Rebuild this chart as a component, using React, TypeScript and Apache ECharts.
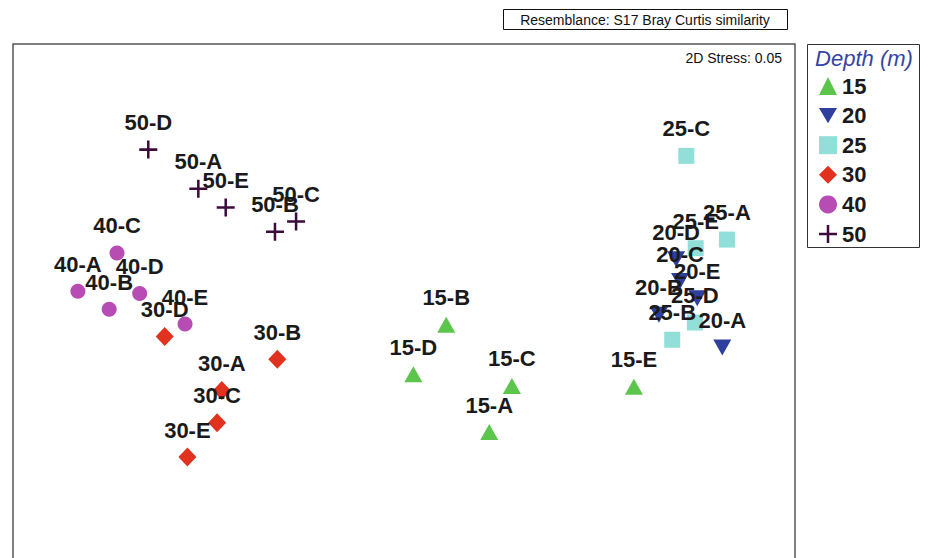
import React, { useEffect, useRef } from 'react';
import * as echarts from 'echarts';

// nMDS ordination coordinates (arbitrary units), sites A..E per depth
const sites = ['A', 'B', 'C', 'D', 'E'];
const depths = ['15', '20', '25', '30', '40', '50'];

const x15 = [60.9, 55.4, 63.8, 51.2, 79.4];
const y15 = [16.1, 29.8, 22.0, 23.5, 21.9];

const x20 = [90.7, 82.6, 85.3, 84.8, 87.5];
const y20 = [26.9, 31.1, 35.4, 38.2, 33.2];

const x25 = [91.3, 84.3, 86.1, 87.2, 87.3];
const y25 = [40.7, 27.9, 51.4, 30.1, 39.6];

const x30 = [26.7, 33.8, 26.1, 19.4, 22.3];
const y30 = [21.4, 25.4, 17.3, 28.3, 12.9];

const x40 = [8.3, 12.3, 13.3, 16.2, 22.0];
const y40 = [34.1, 31.8, 39.0, 33.8, 29.9];

const x50 = [23.7, 33.5, 36.2, 17.3, 27.2];
const y50 = [47.2, 41.7, 43.0, 52.2, 44.8];

const xs = [x15, x20, x25, x30, x40, x50];
const ys = [y15, y20, y25, y30, y40, y50];

const colors = ['#5cc64c', '#2e3f9e', '#92dfd9', '#e0321f', '#b64cb4', '#3d0a3e'];
const symbols = [
  'triangle',
  'path://M0,0L20,0L10,17Z',
  'rect',
  'diamond',
  'circle',
  'path://M8.6,0h2.8v8.6h8.6v2.8h-8.6v8.6h-2.8v-8.6h-8.6v-2.8h8.6z',
];
const sizes: any[] = [[18, 16], [18, 16], 16, [18, 19], 15, 18];

const FONT = '"Liberation Sans", Arial, Helvetica, sans-serif';

export default function App() {
  const ref = useRef<HTMLDivElement>(null);
  useEffect(() => {
    if (!ref.current) return;
    const chart = echarts.init(ref.current, null, { renderer: 'svg' });
    const series = depths.map((d, i) => ({
      name: d,
      type: 'scatter',
      symbol: symbols[i],
      symbolSize: sizes[i],
      itemStyle: { color: colors[i], opacity: 1 },
      data: sites.map((s, j) => ({ name: `${d}-${s}`, value: [xs[i][j], ys[i][j]] })),
      label: {
        show: true,
        formatter: (p: any) => p.name,
        position: 'inside',
        offset: [0, -27],
        fontSize: 22,
        fontWeight: 'bold',
        fontFamily: FONT,
        color: '#1a1a1a',
      },
      emphasis: { disabled: true },
    }));
    chart.setOption({
      animation: false,
      backgroundColor: '#ffffff',
      grid: { left: 13, top: 44, width: 782, height: 514, show: false },
      xAxis: { type: 'value', min: 0, max: 100, show: false },
      yAxis: { type: 'value', min: 0, max: 65.7, show: false },
      legend: {
        orient: 'vertical',
        left: 814,
        top: 70,
        itemWidth: 18,
        itemHeight: 18,
        itemGap: 7.6,
        selectedMode: false,
        data: depths,
        textStyle: {
          fontSize: 22,
          fontWeight: 'bold',
          fontFamily: FONT,
          color: '#1a1a1a',
          lineHeight: 18,
        },
      },
      graphic: [
        {
          type: 'rect',
          silent: true,
          z: -10,
          shape: { x: 13, y: 44, width: 782, height: 600 },
          style: { fill: 'none', stroke: '#555555', lineWidth: 1.5 },
        },
        {
          type: 'rect',
          silent: true,
          shape: { x: 807.5, y: 44.5, width: 112, height: 203 },
          style: { fill: 'none', stroke: '#333333', lineWidth: 1 },
        },
        {
          type: 'rect',
          silent: true,
          shape: { x: 503.5, y: 9.5, width: 284, height: 20 },
          style: { fill: 'none', stroke: '#111111', lineWidth: 1 },
        },
        {
          type: 'text',
          silent: true,
          x: 645,
          y: 19.5,
          style: {
            text: 'Resemblance: S17 Bray Curtis similarity',
            fontSize: 14,
            fontFamily: FONT,
            fill: '#111111',
            textAlign: 'center',
            textVerticalAlign: 'middle',
          },
        },
        {
          type: 'text',
          silent: true,
          x: 782,
          y: 58,
          style: {
            text: '2D Stress: 0.05',
            fontSize: 14,
            fontFamily: FONT,
            fill: '#111111',
            textAlign: 'right',
            textVerticalAlign: 'middle',
          },
        },
        {
          type: 'text',
          silent: true,
          x: 864,
          y: 58,
          style: {
            text: 'Depth (m)',
            fontSize: 22,
            fontStyle: 'italic',
            fontFamily: FONT,
            fill: '#3545a5',
            textAlign: 'center',
            textVerticalAlign: 'middle',
          },
        },
      ],
      series,
    });
    return () => chart.dispose();
  }, []);
  return (
    <div
      ref={ref}
      style={{ position: 'fixed', left: 0, top: 0, width: 928, height: 558 }}
    />
  );
}
